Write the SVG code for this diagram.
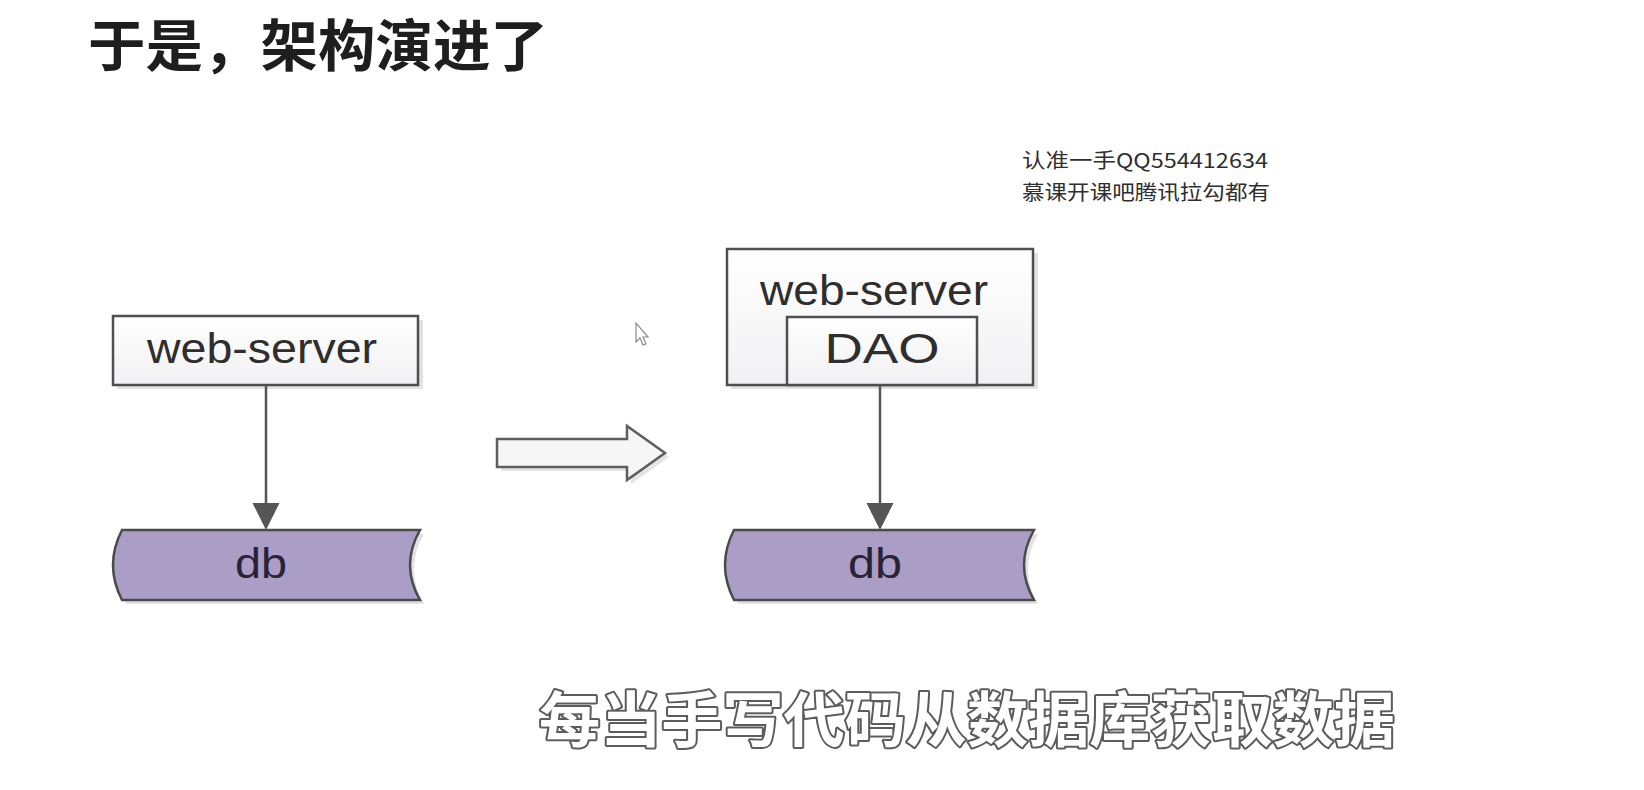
<svg xmlns="http://www.w3.org/2000/svg" width="1644" height="790" viewBox="0 0 1644 790">
<style>
.box{fill:url(#boxg);stroke:#4f4f4f;stroke-width:2.5}
.shadow{fill:#e2e2e2}
.db{fill:#ab9ec6;stroke:#4a4a4a;stroke-width:2.5}
.lbl{font-family:"Liberation Sans",Arial,sans-serif;font-size:42px;fill:#2e2e2e;text-anchor:middle}
.dbl{font-family:"Liberation Sans",Arial,sans-serif;font-size:42px;fill:#2a2338;text-anchor:middle}
.conn{stroke:#555;stroke-width:2.5;fill:none}
.title{font-family:"Noto Sans CJK SC","Noto Sans",sans-serif;font-weight:bold;font-size:56px;fill:#1e1e1e}
.wm{font-family:"Noto Sans CJK SC","Noto Sans",sans-serif;font-size:20px;fill:#2f2f2f}
.sub{font-family:"Noto Sans CJK SC","Noto Sans",sans-serif;font-weight:bold;font-size:60px;fill:#ffffff;stroke:#5c5c5c;stroke-width:4;stroke-linejoin:round;paint-order:stroke}
</style>
<defs>
<linearGradient id="boxg" x1="0" y1="0" x2="0" y2="1">
<stop offset="0" stop-color="#ffffff"/>
<stop offset="1" stop-color="#f1f1f3"/>
</linearGradient>
</defs>
<rect width="1644" height="790" fill="#ffffff"/>

<text class="title" x="88" y="66" textLength="460" lengthAdjust="spacingAndGlyphs">于是，架构演进了</text>

<g id="watermark">
<text class="wm" x="1022" y="168" textLength="246" lengthAdjust="spacingAndGlyphs">认准一手QQ554412634</text>
<text class="wm" x="1022" y="200" textLength="248" lengthAdjust="spacingAndGlyphs">慕课开课吧腾讯拉勾都有</text>
</g>

<g id="left-web-server">
<rect class="shadow" x="117" y="320" width="306" height="69"/>
<rect class="box" x="113" y="316" width="305" height="69"/>
<text class="lbl" x="262" y="363" textLength="230" lengthAdjust="spacingAndGlyphs">web-server</text>
</g>

<g id="left-db">
<path class="shadow" d="M126,534 H424 Q404,569 424,604 H126 Q108,569 126,534 Z"/>
<path class="db" d="M122,530 H420 Q400,565 420,600 H122 Q104,565 122,530 Z"/>
<text class="dbl" x="261" y="578" textLength="52" lengthAdjust="spacingAndGlyphs">db</text>
</g>

<g id="transition-arrow">
<path d="M501,443 H631 V430 L669,457 L631,484 V471 H501 Z" fill="#e4e4e4"/>
<path d="M497,439 H627 V426 L665,453 L627,480 V467 H497 Z" fill="#f6f6f6" stroke="#5e5e5e" stroke-width="2.5" stroke-linejoin="miter"/>
</g>

<g id="cursor">
<path d="M636,323 L636,342 L640,338 L643,345 L646,344 L643,337 L648,337 Z" fill="#ffffff" stroke="#8a8a8a" stroke-width="1.2"/>
</g>

<g id="right-web-server">
<rect class="shadow" x="731" y="253" width="307" height="136"/>
<rect class="box" x="727" y="249" width="306" height="136"/>
<text class="lbl" x="874" y="305" textLength="228" lengthAdjust="spacingAndGlyphs">web-server</text>
</g>

<g id="dao">
<rect class="box" x="787" y="317" width="190" height="68"/>
<text class="lbl" x="882" y="363" textLength="115" lengthAdjust="spacingAndGlyphs">DAO</text>
</g>

<g id="right-db">
<path class="shadow" d="M738,534 H1038 Q1018,569 1038,604 H738 Q720,569 738,534 Z"/>
<path class="db" d="M734,530 H1034 Q1014,565 1034,600 H734 Q716,565 734,530 Z"/>
<text class="dbl" x="875" y="578" textLength="54" lengthAdjust="spacingAndGlyphs">db</text>
</g>

<g id="connectors">
<line class="conn" x1="266" y1="385" x2="266" y2="505"/>
<path d="M252.5,503 L279.5,503 L266,530 Z" fill="#555"/>
<line class="conn" x1="880" y1="385" x2="880" y2="505"/>
<path d="M866.5,503 L893.5,503 L880,530 Z" fill="#555"/>
</g>

<text class="sub" x="539" y="742" textLength="856" lengthAdjust="spacingAndGlyphs">每当手写代码从数据库获取数据</text>
</svg>
